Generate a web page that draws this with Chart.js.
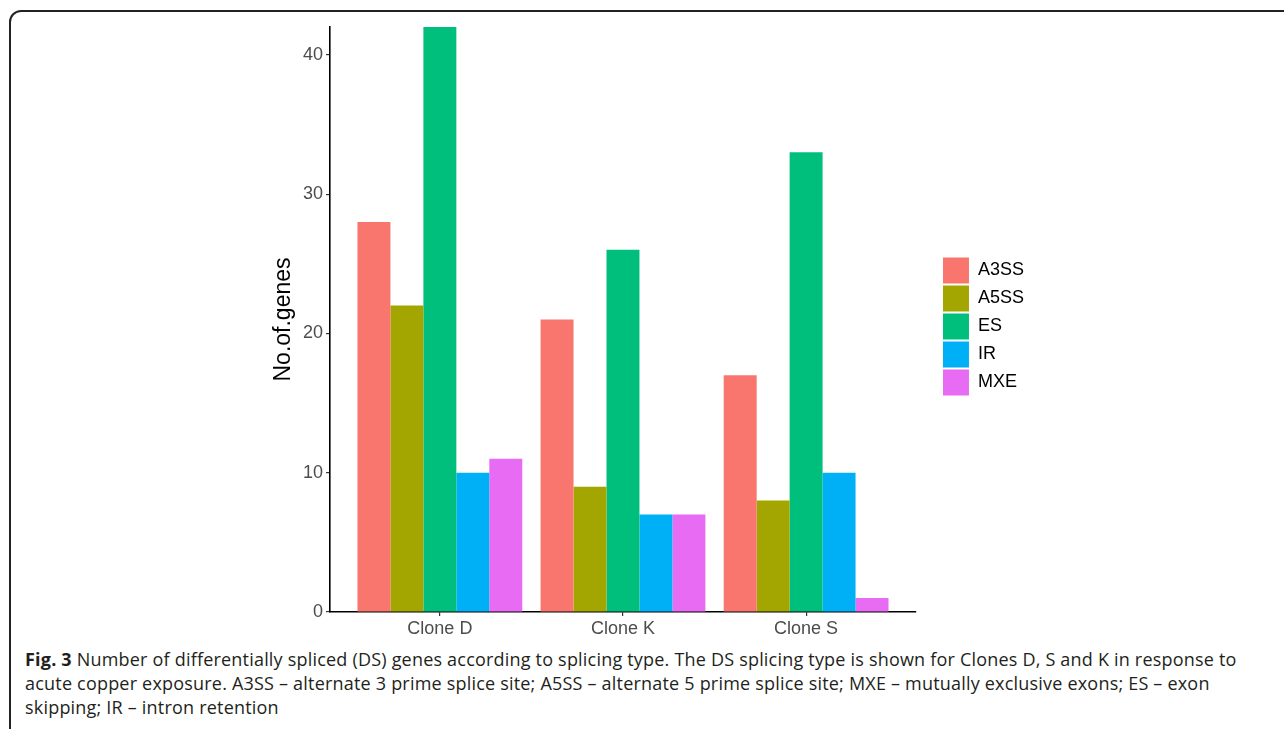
<!DOCTYPE html>
<html>
<head>
<meta charset="utf-8">
<script src="https://cdn.jsdelivr.net/npm/chart.js@4.4.1/dist/chart.umd.min.js"></script>
<style>
  html, body { margin: 0; padding: 0; background: #fff; }
  body { width: 1284px; height: 729px; position: relative; overflow: hidden; }
  #frame {
    position: absolute; left: 9px; top: 10px; width: 1400px; height: 900px;
    border: 2px solid #222; border-radius: 12px; box-sizing: border-box;
  }
  #wrap { position: absolute; left: 0; top: 0; width: 1284px; height: 642px; }
  #caption {
    position: absolute; left: 25px; top: 647px;
    font-family: "Open Sans", sans-serif; font-size: 18px; line-height: 24px;
    letter-spacing: 0.2px; color: #231f20; white-space: nowrap;
  }
  #caption b { font-weight: 700; }
</style>
</head>
<body>
<div id="frame"></div>
<div id="wrap"><canvas id="myChart"></canvas></div>
<div id="caption">
  <span class="line"><b>Fig. 3</b> Number of differentially spliced (DS) genes according to splicing type. The DS splicing type is shown for Clones D, S and K in response to</span><br>
  <span class="line">acute copper exposure. A3SS – alternate 3 prime splice site; A5SS – alternate 5 prime splice site; MXE – mutually exclusive exons; ES – exon</span><br>
  <span class="line">skipping; IR – intron retention</span>
</div>
<script>
// clones on the x axis
const clones = ["Clone D", "Clone K", "Clone S"];

// number of DS genes per splicing type
const a3ss = [28, 21, 17];
const a5ss = [22, 9, 8];
const es = [42, 26, 33];
const ir = [10, 7, 10];
const mxe = [11, 7, 1];

const yTicks = [0, 10, 20, 30, 40];

function toPoints(values) {
    return values.map((v, i) => ({ x: i + 1, y: v }));
}

// legend is centred on the plot panel, not on panel + x labels
const legendNudge = {
    id: "legendNudge",
    afterLayout(chart) {
        chart.legend.top -= 8;
        chart.legend.bottom -= 8;
    }
};

let config = {
    type: "bar",
    data: {
        datasets: [
            { label: "A3SS", data: toPoints(a3ss), backgroundColor: "#F8766D" },
            { label: "A5SS", data: toPoints(a5ss), backgroundColor: "#A3A500" },
            { label: "ES", data: toPoints(es), backgroundColor: "#00BF7D" },
            { label: "IR", data: toPoints(ir), backgroundColor: "#00B0F6" },
            { label: "MXE", data: toPoints(mxe), backgroundColor: "#E76BF3" }
        ]
    },
    plugins: [legendNudge],
    options: {
        responsive: false,
        animation: false,
        layout: {
            padding: { left: 260, top: 27, right: 250, bottom: 0 }
        },
        datasets: {
            bar: { categoryPercentage: 0.9, barPercentage: 1.0, borderWidth: 0 }
        },
        plugins: {
            tooltip: { enabled: false },
            legend: {
                position: "right",
                labels: {
                    boxWidth: 26,
                    boxHeight: 26,
                    padding: 2,
                    color: "#000",
                    font: { family: "Liberation Sans", size: 18 }
                }
            }
        },
        scales: {
            x: {
                type: "linear",
                min: 0.4,
                max: 3.6,
                offset: false,
                afterBuildTicks: (scale) => {
                    scale.ticks = clones.map((_, i) => ({ value: i + 1 }));
                },
                afterFit: (scale) => { scale.height = 30; },
                grid: {
                    offset: false,
                    drawOnChartArea: false,
                    drawTicks: true,
                    tickLength: 4,
                    color: "#333",
                    lineWidth: 1.2
                },
                border: { display: true, color: "#000", width: 1.6 },
                ticks: {
                    padding: 2,
                    color: "#4d4d4d",
                    font: { family: "Liberation Sans", size: 18 },
                    callback: (value) => clones[value - 1]
                }
            },
            y: {
                min: 0,
                max: 42,
                afterBuildTicks: (scale) => {
                    scale.ticks = yTicks.map(v => ({ value: v }));
                },
                afterFit: (scale) => { scale.width = 70; },
                grid: {
                    drawOnChartArea: false,
                    drawTicks: true,
                    tickLength: 4,
                    color: "#333",
                    lineWidth: 1.2
                },
                border: { display: true, color: "#000", width: 1.6 },
                ticks: {
                    padding: 3,
                    color: "#4d4d4d",
                    font: { family: "Liberation Sans", size: 18 }
                },
                title: {
                    display: true,
                    text: "No.of.genes",
                    color: "#000",
                    padding: { top: 10, bottom: 0 },
                    font: { family: "Liberation Sans", size: 23 }
                }
            },
            // empty axis, only keeps a gap between the plot and the legend
            yGap: {
                type: "linear",
                position: "right",
                afterFit: (scale) => { scale.width = 25; },
                grid: { display: false },
                border: { display: false },
                ticks: { display: false }
            }
        }
    }
};

let canvas = document.getElementById("myChart");
canvas.width = 1284;
canvas.height = 642;
let myChart = new Chart(canvas.getContext("2d"), config);
</script>
</body>
</html>
